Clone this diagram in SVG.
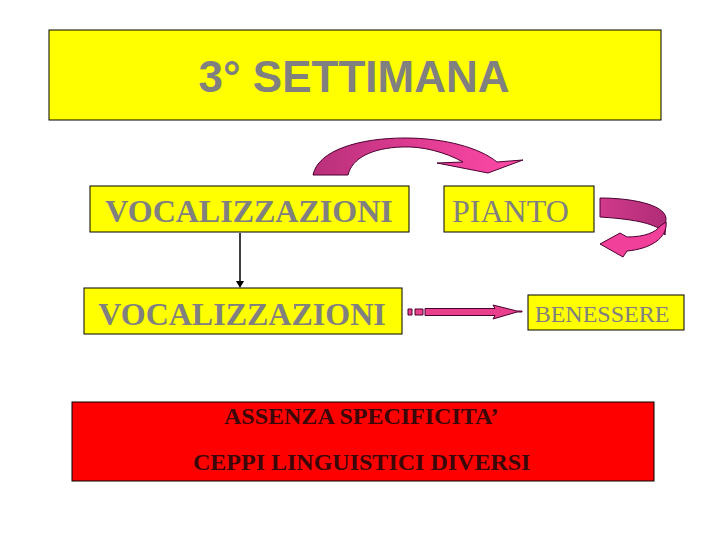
<svg xmlns="http://www.w3.org/2000/svg" width="720" height="540" viewBox="0 0 720 540">
<defs>
<linearGradient id="gTop" x1="0" y1="0" x2="1" y2="0">
<stop offset="0" stop-color="#b8307a"/>
<stop offset="0.5" stop-color="#e03c92"/>
<stop offset="1" stop-color="#ff4aa8"/>
</linearGradient>
<linearGradient id="gBack" x1="0" y1="0" x2="1" y2="0">
<stop offset="0" stop-color="#d03a8a"/>
<stop offset="1" stop-color="#b02c76"/>
</linearGradient>
<style>
.box{fill:#ffff00;stroke:#000;stroke-width:1}
.red{fill:#ff0000;stroke:#000;stroke-width:1}
.title{font-family:"Liberation Sans",Arial,sans-serif;font-weight:bold;font-size:44px;fill:#808080}
.sb{font-family:"Liberation Serif","Times New Roman",serif;font-weight:bold;font-size:32px;fill:#808080}
.sr{font-family:"Liberation Serif","Times New Roman",serif;fill:#808080}
.rt{font-family:"Liberation Serif","Times New Roman",serif;font-weight:bold;font-size:24px;fill:#3a0808}
.pk{stroke:#4a0030;stroke-width:1;stroke-linejoin:round}
</style>
</defs>
<rect width="720" height="540" fill="#fff"/>
<g id="title">
<rect class="box" x="49" y="30" width="612" height="90"/>
<text class="title" x="354" y="92" text-anchor="middle">3° SETTIMANA</text>
</g>
<g id="vocalizzazioni1">
<rect class="box" x="90" y="186" width="319" height="46"/>
<text class="sb" x="249" y="222" text-anchor="middle">VOCALIZZAZIONI</text>
</g>
<g id="pianto">
<rect class="box" x="444" y="186" width="150" height="46"/>
<text class="sr" x="452" y="222" font-size="32">PIANTO</text>
</g>
<g id="vocalizzazioni2">
<rect class="box" x="84" y="288" width="318" height="46"/>
<text class="sb" x="242" y="325" text-anchor="middle">VOCALIZZAZIONI</text>
</g>
<g id="benessere">
<rect class="box" x="528" y="295" width="156" height="35"/>
<text class="sr" x="602" y="322" font-size="24" text-anchor="middle">BENESSERE</text>
</g>
<g id="assenza">
<rect class="red" x="72" y="402" width="582" height="79"/>
<text class="rt" x="224" y="424">ASSENZA SPECIFICITA’</text>
<text class="rt" x="193" y="470">CEPPI LINGUISTICI DIVERSI</text>
</g>
<g id="connectors">
<line x1="240" y1="233" x2="240" y2="281" stroke="#000" stroke-width="1.5"/>
<polygon points="236,281 244,281 240,288" fill="#000"/>
<path class="pk" fill="url(#gTop)" d="M313,175 C318,150 360,138 405,138 C445,138 480,148 497,162 L523,160 L488,173 L437,163 L463,162 C445,152 422,146 402,147 C372,148 352,158 348,175 Z"/>
<path class="pk" fill="url(#gBack)" d="M600,198 C630,198 664,204 666,218 L665,235 C662,228 650,220 600,217 Z"/>
<path class="pk" fill="#f0409a" d="M666,222 C668,238 650,249 627,251 L623,257 L600,244 L620,233 L627,237 C645,237 656,232 660,226 Z"/>
<rect class="pk" x="408" y="309" width="4" height="6" fill="#e8408c"/>
<rect class="pk" x="415" y="309" width="8" height="6" fill="#e8408c"/>
<path class="pk" fill="#e8408c" d="M425,308.5 L495,308.5 L493,305 L517,311 L522,311 L522,312 L517,312 L493,319 L495,315.5 L425,315.5 Z"/>
</g>
</svg>
